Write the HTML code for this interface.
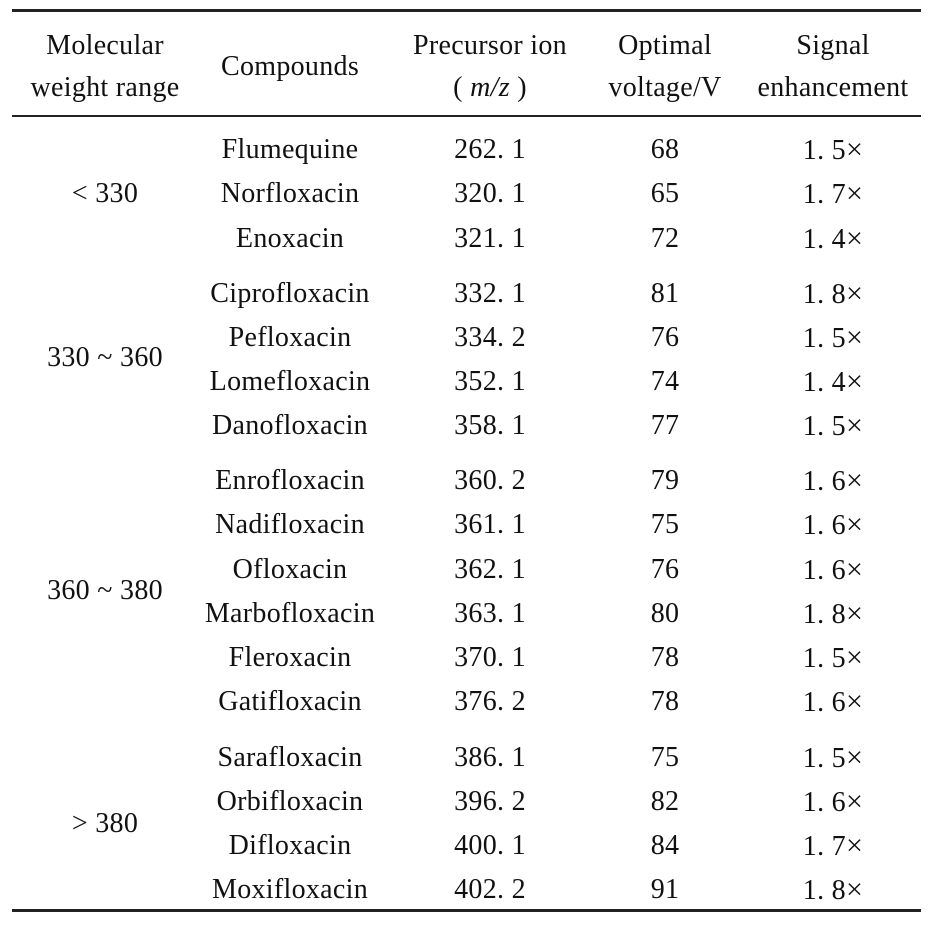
<!DOCTYPE html>
<html><head><meta charset="utf-8"><style>
body{margin:0;background:#fff;}
#t{position:relative;width:928px;height:928px;background:#fff;font-family:"Liberation Serif","Noto Serif CJK SC",serif;color:#111;font-size:28px;letter-spacing:0.3px;}
.c{position:absolute;transform:translate(-50%,-50%);white-space:nowrap;line-height:1;margin-top:2px;}
.r{position:absolute;left:12px;width:909px;background:#222;}
.x{font-size:30px;}
</style></head><body>
<div id="t">
<div class="r" style="top:9px;height:3px"></div>
<div class="r" style="top:115px;height:2px"></div>
<div class="r" style="top:909px;height:3px"></div>
</div>
<script>
const compounds=["Flumequine","Norfloxacin","Enoxacin","Ciprofloxacin","Pefloxacin","Lomefloxacin","Danofloxacin","Enrofloxacin","Nadifloxacin","Ofloxacin","Marbofloxacin","Fleroxacin","Gatifloxacin","Sarafloxacin","Orbifloxacin","Difloxacin","Moxifloxacin"];
const precursor=["262. 1","320. 1","321. 1","332. 1","334. 2","352. 1","358. 1","360. 2","361. 1","362. 1","363. 1","370. 1","376. 2","386. 1","396. 2","400. 1","402. 2"];
const voltage=["68","65","72","81","76","74","77","79","75","76","80","78","78","75","82","84","91"];
const enhance=["1. 5","1. 7","1. 4","1. 8","1. 5","1. 4","1. 5","1. 6","1. 6","1. 6","1. 8","1. 5","1. 6","1. 5","1. 6","1. 7","1. 8"];
const rowY=[148,192,237,292,336,380,424,479,523,568,612,656,700,756,800,844,888];
const groups=["< 330","330 ~ 360","360 ~ 380","> 380"];
const groupY=[192,356,589,822];
const colX=[105,290,490,665,833];
const t=document.getElementById('t');
function add(txt,x,y,name,html){const d=document.createElement('div');d.className='c';d.style.left=x+'px';d.style.top=y+'px';if(html)d.innerHTML=txt;else d.textContent=txt;


t.appendChild(d);}
add('Molecular',colX[0],44,'header-molecular');
add('weight range',colX[0],86,'header-weight-range');
add('Compounds',colX[1],65,'header-compounds');
add('Precursor ion',colX[2],44,'header-precursor');
add('( <i>m/z</i> )',colX[2],86,'header-mz',true);
add('Optimal',colX[3],44,'header-optimal');
add('voltage/V',colX[3],86,'header-voltage');
add('Signal',colX[4],44,'header-signal');
add('enhancement',colX[4],86,'header-enhancement');
groups.forEach((g,i)=>add(g,colX[0],groupY[i],'group-label'));
compounds.forEach((c,i)=>{add(c,colX[1],rowY[i],'compound-cell');add(precursor[i],colX[2],rowY[i],'precursor-cell');add(voltage[i],colX[3],rowY[i],'voltage-cell');add(enhance[i]+'<span class="x">×</span>',colX[4],rowY[i],'enhancement-cell',true);});
</script>
</body></html>
